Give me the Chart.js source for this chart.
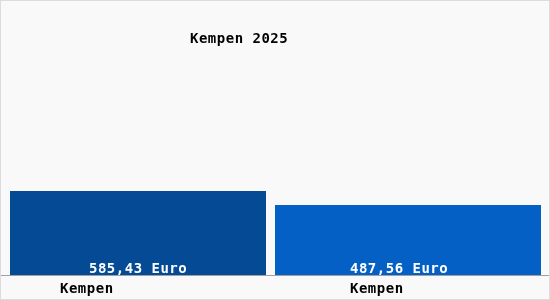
<!DOCTYPE html>
<html>
<head>
<meta charset="utf-8">
<script src="https://cdn.jsdelivr.net/npm/chart.js@4/dist/chart.umd.min.js"></script>
<style>
  html, body { margin: 0; padding: 0; background: #fff; }
  #wrap { width: 550px; height: 300px; box-sizing: border-box; border: 1px solid #dcdcdc; background: #f9f9f9; }
  canvas { display: block; }
</style>
</head>
<body>
<div id="wrap"><canvas id="c" width="548" height="298"></canvas></div>
<script>
const categories = ["Kempen", "Kempen"];
const values = [585.43, 487.56];
const valueLabels = ["585,43 Euro", "487,56 Euro"];
const title = "Kempen 2025";
const barColors = ["#044a95", "#0560c5"];

// style only: per-bar width fraction and text offsets relative to bar centre
const barFractions = [256 / 270, 266 / 270];
const catLabelShift = [-78, -58];
const valLabelShift = [-49, -58];
const FONT = "bold 14px 'DejaVu Sans Mono', monospace";

const datasets = values.map((v, i) => ({
  data: categories.map((_, j) => (j === i ? v : null)),
  backgroundColor: barColors[i],
  borderWidth: 0,
  grouped: false,
  barPercentage: barFractions[i],
  categoryPercentage: 1.0
}));

const textPlugin = {
  id: 'texts',
  afterDatasetsDraw(chart) {
    const ctx = chart.ctx;
    const xs = chart.scales.x;
    const ys = chart.scales.y;
    const base = ys.getPixelForValue(0);
    ctx.save();
    ctx.font = FONT;
    if ('letterSpacing' in ctx) ctx.letterSpacing = '0.5px';
    ctx.textAlign = 'left';
    ctx.textBaseline = 'alphabetic';
    // value labels
    ctx.fillStyle = '#ffffff';
    values.forEach((v, i) => {
      const bar = chart.getDatasetMeta(i).data[i];
      ctx.fillText(valueLabels[i], bar.x + valLabelShift[i], base - 2.5);
    });
    // axis line
    ctx.strokeStyle = '#a0a0a0';
    ctx.lineWidth = 1;
    ctx.beginPath();
    ctx.moveTo(0, Math.round(base) + 0.5);
    ctx.lineTo(chart.width, Math.round(base) + 0.5);
    ctx.stroke();
    // category labels
    ctx.fillStyle = '#000000';
    categories.forEach((c, i) => {
      ctx.fillText(c, xs.getPixelForValue(i) + catLabelShift[i], base + 18);
    });
    // title
    ctx.fillText(title, 189, 42);
    ctx.restore();
  }
};

new Chart(document.getElementById('c'), {
  type: 'bar',
  data: { labels: categories, datasets: datasets },
  options: {
    responsive: false,
    animation: false,
    layout: { padding: { left: 2, right: 6, top: 16, bottom: 24 } },
    plugins: { legend: { display: false }, title: { display: false }, tooltip: { enabled: false } },
    scales: {
      x: { display: false },
      y: { display: false, min: 0, max: 1800 }
    }
  },
  plugins: [textPlugin]
});
</script>
</body>
</html>
